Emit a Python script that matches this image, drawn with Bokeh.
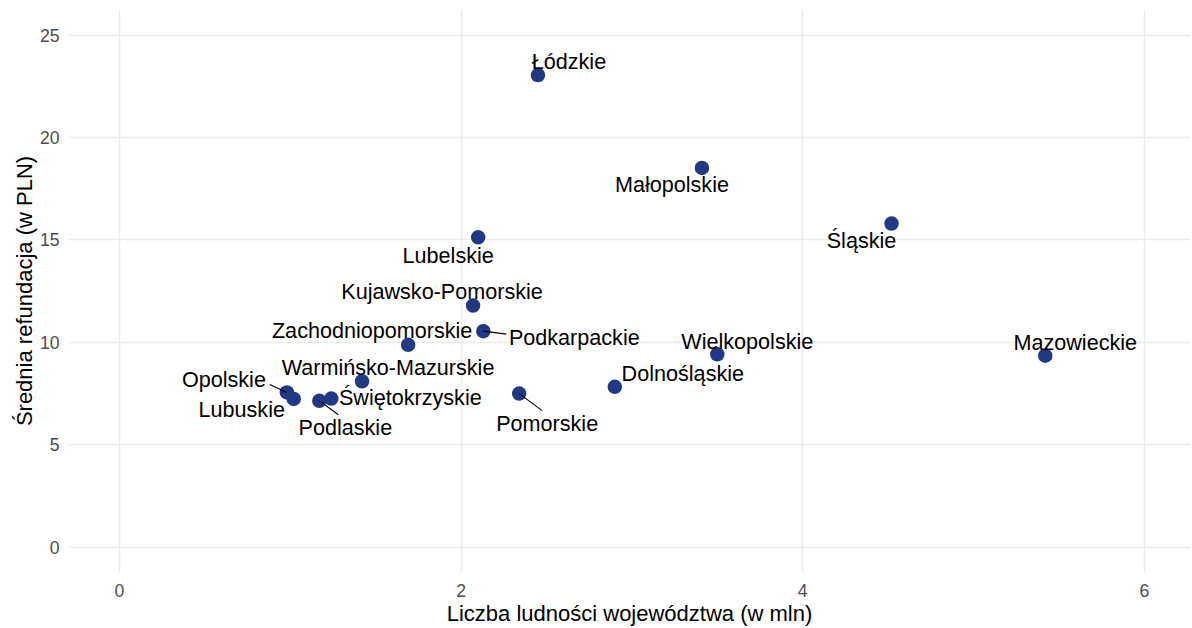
from bokeh.plotting import figure
from bokeh.models import ColumnDataSource, FixedTicker
from bokeh.core.properties import value
from bokeh.embed import file_html
from bokeh.resources import INLINE

# ---- data ----
wojewodztwa = ["Łódzkie", "Małopolskie", "Lubelskie", "Śląskie", "Mazowieckie",
               "Kujawsko-Pomorskie", "Podkarpackie", "Zachodniopomorskie",
               "Wielkopolskie", "Dolnośląskie", "Pomorskie", "Warmińsko-Mazurskie",
               "Opolskie", "Lubuskie", "Podlaskie", "Świętokrzyskie"]
ludnosc_mln = [2.45, 3.41, 2.10, 4.52, 5.42, 2.07, 2.13, 1.69,
               3.50, 2.90, 2.34, 1.42, 0.98, 1.02, 1.17, 1.24]
refundacja_pln = [23.05, 18.52, 15.13, 15.80, 9.35, 11.80, 10.55, 9.88,
                  9.42, 7.83, 7.50, 8.10, 7.56, 7.24, 7.15, 7.26]

x_ticks = [0, 2, 4, 6]
y_ticks = [0, 5, 10, 15, 20, 25]

# ---- label placement (screen pixels, relative to point; +dy = down, text middle) ----
label_dx = [31, -30, -30, -30, 30, -31, 91, -36, 30, 68, 28, 26, -63, -52, 26, 79]
label_dy = [-14, 17, 18, 17, -13, -14, 6, -14, -13, -13, 30, -14, -13, 11, 27, -1]
# leader segments: (index, dx, dy) of the label-side end, in pixels
seg_ends = [(6, 23, 3), (10, 23, 17), (12, -17, -8), (14, 19, 14)]

# ---- geometry ----
W, H = 1192, 628
ML, MR, MT, MB = 68, 2, 9, 55
px_x = 170.8
px_y = 20.52
x0 = -51 / px_x
x1 = x0 + (W - ML - MR) / px_x
y1 = 538.7 / px_y
y0 = y1 - (H - MT - MB) / px_y

FONT = "Liberation Sans"

p = figure(width=W, height=H, x_range=(x0, x1), y_range=(y0, y1),
           min_border_left=ML, min_border_right=MR, min_border_top=MT,
           min_border_bottom=MB, output_backend="svg", toolbar_location=None)
p.outline_line_color = None
p.background_fill_color = "white"
p.border_fill_color = "white"

for ax, ticks in ((p.xaxis[0], x_ticks), (p.yaxis[0], y_ticks)):
    ax.ticker = FixedTicker(ticks=ticks)
    ax.axis_line_color = None
    ax.major_tick_line_color = None
    ax.minor_tick_line_color = None
    ax.major_tick_out = 0
    ax.major_tick_in = 0
    ax.major_label_text_font = FONT
    ax.major_label_text_font_size = "17.6px"
    ax.major_label_text_color = "#4d4d4d"
    ax.axis_label_text_font = FONT
    ax.axis_label_text_font_size = "22px"
    ax.axis_label_text_font_style = "normal"
    ax.axis_label_text_color = "black"

p.xaxis.axis_label = "Liczba ludności województwa (w mln)"
p.yaxis.axis_label = "Średnia refundacja (w PLN)"
p.xaxis.major_label_standoff = 11
p.xaxis.axis_label_standoff = 1
p.yaxis.major_label_standoff = 9
p.yaxis.axis_label_standoff = 0

p.xgrid.ticker = FixedTicker(ticks=x_ticks)
p.ygrid.ticker = FixedTicker(ticks=y_ticks)
for g in (p.xgrid[0], p.ygrid[0]):
    g.grid_line_color = "#ebebeb"
    g.grid_line_width = 1.4
    g.minor_grid_line_color = None

src = ColumnDataSource(dict(x=ludnosc_mln, y=refundacja_pln, name=wojewodztwa,
                            dx=label_dx, dy=label_dy))

p.scatter("x", "y", source=src, size=14.5, fill_color="#213885",
          line_color="#213885", line_width=0)

# leader segments
sx0, sy0, sx1, sy1 = [], [], [], []
for i, dx, dy in seg_ends:
    sx0.append(ludnosc_mln[i])
    sy0.append(refundacja_pln[i])
    sx1.append(ludnosc_mln[i] + dx / px_x)
    sy1.append(refundacja_pln[i] - dy / px_y)
p.segment(sx0, sy0, sx1, sy1, line_color="black", line_width=1.1)

p.text("x", "y", text="name", source=src, x_offset="dx", y_offset="dy",
       text_font=value(FONT), text_font_size="21.6px", text_color="black",
       text_align="center", text_baseline="middle")

open("out.html", "w").write(file_html(p, INLINE))
